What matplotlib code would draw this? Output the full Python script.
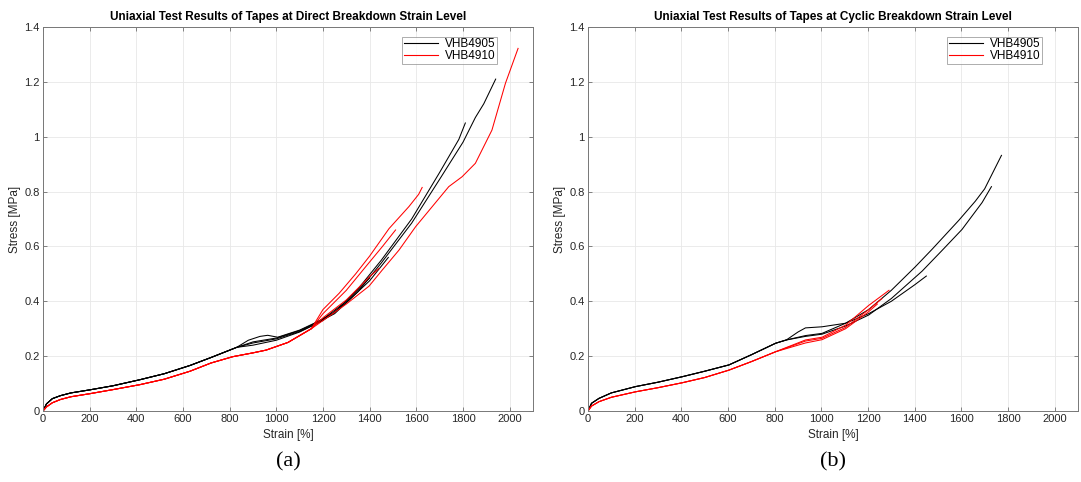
import matplotlib
matplotlib.use('Agg')
import matplotlib.pyplot as plt
from matplotlib.ticker import FuncFormatter

plt.rcParams['font.family'] = ['Liberation Sans', 'DejaVu Sans']

# ---- (a) direct breakdown ----
# VHB4905 runs
a_head_x = [0, 15, 40, 75, 120, 200, 300, 415, 520, 630, 720, 830]
a_head_y = [0, 0.026, 0.045, 0.056, 0.066, 0.077, 0.092, 0.114, 0.136, 0.166, 0.195, 0.232]

a_b1_x = [900, 1000, 1100, 1150, 1250, 1350, 1450, 1580, 1700, 1800, 1853, 1889, 1940]
a_b1_y = [0.248, 0.263, 0.29, 0.31, 0.355, 0.435, 0.54, 0.685, 0.845, 0.98, 1.07, 1.12, 1.21]
a_b2_x = [900, 1000, 1100, 1150, 1250, 1350, 1450, 1580, 1700, 1782, 1810]
a_b2_y = [0.252, 0.266, 0.293, 0.313, 0.36, 0.445, 0.55, 0.70, 0.87, 0.99, 1.05]
a_b3_x = [880, 930, 963, 1006, 1100, 1200, 1300, 1400]
a_b3_y = [0.258, 0.272, 0.276, 0.269, 0.295, 0.335, 0.40, 0.485]
a_b4_x = [900, 1000, 1100, 1200, 1300, 1400, 1480]
a_b4_y = [0.24, 0.258, 0.288, 0.33, 0.395, 0.475, 0.56]

# VHB4910 runs
a_rhead_x = [0, 15, 40, 75, 120, 200, 300, 415, 520, 630, 720, 813, 900, 956, 1050, 1150]
a_rhead_y = [0, 0.015, 0.03, 0.042, 0.052, 0.063, 0.078, 0.096, 0.116, 0.145, 0.175, 0.198, 0.212, 0.222, 0.25, 0.30]

a_r1_x = [1200, 1300, 1397, 1454, 1526, 1597, 1668, 1739, 1796, 1853, 1924, 1982, 2036]
a_r1_y = [0.33, 0.39, 0.455, 0.514, 0.587, 0.672, 0.745, 0.818, 0.854, 0.903, 1.024, 1.195, 1.322]
a_r2_x = [1200, 1269, 1340, 1400, 1483, 1568, 1610, 1625]
a_r2_y = [0.37, 0.429, 0.50, 0.565, 0.665, 0.745, 0.79, 0.815]
a_r3_x = [1200, 1300, 1383, 1454, 1511]
a_r3_y = [0.355, 0.44, 0.526, 0.599, 0.66]
a_r4_x = [1200, 1300, 1400, 1440]
a_r4_y = [0.34, 0.405, 0.49, 0.52]

# ---- (b) cyclic breakdown ----
b_head_x = [0, 15, 47, 100, 204, 300, 404, 500, 604, 700, 804, 850]
b_head_y = [0, 0.028, 0.046, 0.066, 0.089, 0.105, 0.125, 0.145, 0.168, 0.205, 0.247, 0.259]

b_b1_x = [932, 1003, 1104, 1203, 1300, 1403, 1475, 1589, 1660, 1700, 1772]
b_b1_y = [0.275, 0.283, 0.32, 0.37, 0.44, 0.526, 0.59, 0.695, 0.765, 0.81, 0.932]
b_b2_x = [932, 1003, 1104, 1203, 1300, 1432, 1517, 1603, 1689, 1729]
b_b2_y = [0.272, 0.28, 0.31, 0.35, 0.41, 0.51, 0.585, 0.662, 0.76, 0.818]
b_b3_x = [900, 932, 1003, 1104, 1203, 1300, 1400, 1450]
b_b3_y = [0.288, 0.303, 0.307, 0.32, 0.355, 0.40, 0.46, 0.492]

b_rhead_x = [0, 15, 47, 100, 204, 300, 404, 500, 604, 700, 804]
b_rhead_y = [0, 0.018, 0.034, 0.05, 0.07, 0.085, 0.103, 0.122, 0.149, 0.18, 0.216]

b_r1_x = [932, 1003, 1104, 1203, 1290]
b_r1_y = [0.259, 0.269, 0.313, 0.385, 0.44]
b_r2_x = [932, 1003, 1104, 1203, 1260]
b_r2_y = [0.255, 0.265, 0.305, 0.37, 0.41]
b_r3_x = [932, 1003, 1104, 1200, 1240]
b_r3_y = [0.248, 0.26, 0.30, 0.36, 0.39]

x_ticks = list(range(0, 2001, 200))
y_ticks = [0, 0.2, 0.4, 0.6, 0.8, 1.0, 1.2, 1.4]

fig = plt.figure(figsize=(10.81, 4.82), dpi=100)
ax_a = fig.add_axes([43/1081, 1-411/482, 490/1081, 384/482])
ax_b = fig.add_axes([588/1081, 1-411/482, 490/1081, 384/482])

lw = 0.75
for x, y in [(a_b1_x, a_b1_y), (a_b2_x, a_b2_y), (a_b3_x, a_b3_y), (a_b4_x, a_b4_y)]:
    ax_a.plot(a_head_x + x, a_head_y + y, color='black', lw=lw)
for x, y in [(a_r1_x, a_r1_y), (a_r2_x, a_r2_y), (a_r3_x, a_r3_y), (a_r4_x, a_r4_y)]:
    ax_a.plot(a_rhead_x + x, a_rhead_y + y, color='red', lw=lw)

for x, y in [(b_b1_x, b_b1_y), (b_b2_x, b_b2_y), (b_b3_x, b_b3_y)]:
    ax_b.plot(b_head_x + x, b_head_y + y, color='black', lw=lw)
for x, y in [(b_r1_x, b_r1_y), (b_r2_x, b_r2_y), (b_r3_x, b_r3_y)]:
    ax_b.plot(b_rhead_x + x, b_rhead_y + y, color='red', lw=lw)

titles = ['Uniaxial Test Results of Tapes at Direct Breakdown Strain Level',
          'Uniaxial Test Results of Tapes at Cyclic Breakdown Strain Level']
for ax, title, tag in zip([ax_a, ax_b], titles, ['(a)', '(b)']):
    ax.set_xlim(0, 2100)
    ax.set_ylim(0, 1.4)
    ax.set_xticks(x_ticks)
    ax.set_yticks(y_ticks)
    ax.yaxis.set_major_formatter(FuncFormatter(lambda v, p: '%g' % round(v, 2)))
    ax.grid(True, color='#e8e8e8', lw=0.6)
    ax.set_axisbelow(True)
    ax.tick_params(direction='in', top=True, right=True, length=3, width=0.5,
                   color='#555555', labelcolor='#262626', labelsize=8, pad=2.5)
    for s in ax.spines.values():
        s.set_color('#777777')
        s.set_linewidth(0.7)
    ax.set_title(title, fontsize=8.5, fontweight='bold', pad=5)
    ax.set_xlabel('Strain [%]', fontsize=8.5, color='#262626', labelpad=3)
    ax.set_ylabel('Stress [MPa]', fontsize=8.5, color='#262626', labelpad=2)
    ax.plot([], [], color='black', lw=0.8, label='VHB4905')
    ax.plot([], [], color='red', lw=0.8, label='VHB4910')
    # only the two dummy entries go into the legend
    h, l = ax.get_legend_handles_labels()
    leg = ax.legend(h[-2:], l[-2:], loc='upper right', bbox_to_anchor=(1 - 36/490, 1 - 10/384),
                    fontsize=8.5, frameon=True, fancybox=False, edgecolor='#888888',
                    handlelength=2.9, borderpad=0.12, labelspacing=0.0, handletextpad=0.6,
                    borderaxespad=0)
    leg.get_frame().set_linewidth(0.6)
    pos = ax.get_position()
    fig.text((pos.x0 + pos.x1) / 2, 1 - 462/482, tag, ha='center', va='center',
             fontsize=16, family='Liberation Serif')

fig.savefig('out.png', dpi=100)
